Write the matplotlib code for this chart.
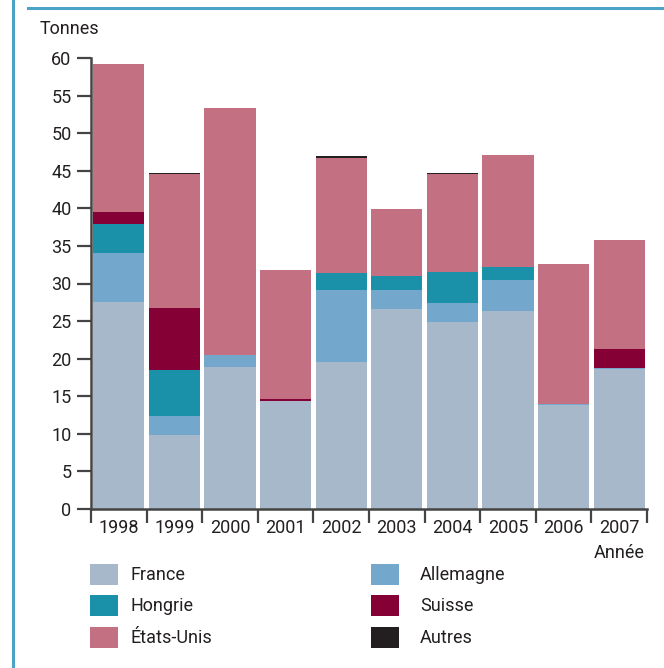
import numpy as np
import matplotlib
matplotlib.use('Agg')
import matplotlib.pyplot as plt
from matplotlib.patches import Patch
from matplotlib.lines import Line2D

plt.rcParams['font.family'] = ['Liberation Sans Narrow', 'Roboto', 'DejaVu Sans']

years = ['1998', '1999', '2000', '2001', '2002', '2003', '2004', '2005', '2006', '2007']
france = [27.5, 9.85, 18.9, 14.4, 19.55, 26.6, 24.9, 26.3, 13.8, 18.6]
allemagne = [6.55, 2.55, 1.6, 0.0, 9.55, 2.5, 2.5, 4.2, 0.2, 0.1]
hongrie = [3.85, 6.1, 0.0, 0.0, 2.3, 1.9, 4.1, 1.7, 0.0, 0.0]
suisse = [1.6, 8.2, 0.0, 0.3, 0.0, 0.0, 0.0, 0.0, 0.0, 2.6]
etats_unis = [19.7, 17.9, 32.9, 17.1, 15.3, 8.9, 13.05, 14.9, 18.6, 14.5]
autres = [0.0, 0.1, 0.0, 0.0, 0.2, 0.0, 0.15, 0.0, 0.0, 0.0]

series = [('France', france, '#a6b8c9'),
          ('Allemagne', allemagne, '#74a7cc'),
          ('Hongrie', hongrie, '#1a91a9'),
          ('Suisse', suisse, '#850035'),
          ('États-Unis', etats_unis, '#c27082'),
          ('Autres', autres, '#231f20')]

txt = '#231f20'
fig = plt.figure(figsize=(6.64, 6.68), dpi=100)
ax = fig.add_axes([91/664, 1-509/668, 556/664, 451/668])

x = np.arange(len(years))
bottom = np.zeros(len(years))
for name, vals, col in series:
    v = np.array(vals)
    ax.bar(x, v, width=0.92, bottom=bottom, color=col, linewidth=0)
    bottom += v

ax.set_xlim(-0.5, 9.5)
ax.set_ylim(0, 60)
ax.set_yticks(np.arange(0, 61, 5))
ax.set_xticks(x)
ax.set_xticklabels(years)
ax.set_xticks(np.arange(-0.5, 10, 1), minor=True)
ax.tick_params(axis='x', which='major', length=0, labelsize=13, pad=7, colors=txt)
ax.tick_params(axis='x', which='minor', length=10, width=1.6, color='#444444')
ax.tick_params(axis='y', length=10, width=1.6, color='#444444', labelsize=13, colors=txt, pad=4)
ax.tick_params(axis='y', colors='#444444')
for lab in ax.get_yticklabels():
    lab.set_color(txt)
for s in ['top', 'right']:
    ax.spines[s].set_visible(False)
for s in ['left', 'bottom']:
    ax.spines[s].set_color('#444444')
    ax.spines[s].set_linewidth(1.8)

fig.text(40/664, 1-29/668, 'Tonnes', fontsize=13, color=txt, va='center', ha='left')
fig.text(645/664, 1-553/668, 'Année', fontsize=13, color=txt, va='center', ha='right')

# legend
cols = [(90, 131), (371, 420)]
rows = [575, 606, 638]
for i, (name, vals, col) in enumerate(series):
    c = cols[i % 2]
    r = rows[i // 2]
    fig.patches.append(plt.Rectangle((c[0]/664, 1-(r+10)/668), 28/664, 21/668,
                                     transform=fig.transFigure, color=col, lw=0))
    fig.text(c[1]/664, 1-r/668, name, fontsize=13, color=txt, va='center', ha='left')

# frame lines
fig.add_artist(Line2D([13/664, 13/664], [0, 1], transform=fig.transFigure,
                      color='#4ba3c7', lw=2.2))
fig.add_artist(Line2D([28/664, 1], [1-7.5/668, 1-7.5/668], transform=fig.transFigure,
                      color='#4ba3c7', lw=2.2))

fig.savefig('out.png', dpi=100)
